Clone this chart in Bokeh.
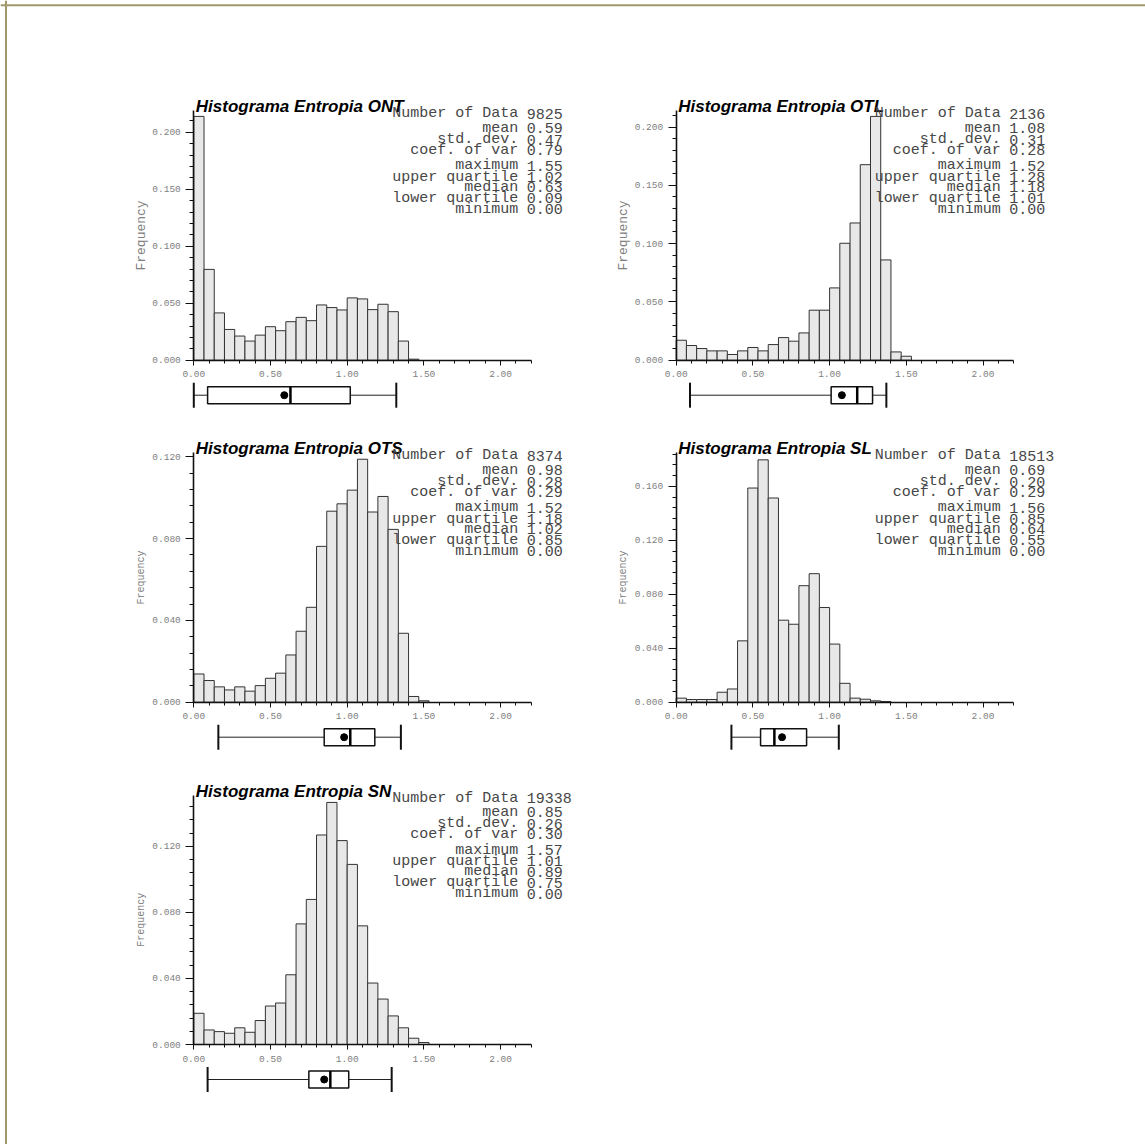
import math
from bokeh.plotting import figure
from bokeh.models import (Range1d, Label, SingleIntervalTicker, NumeralTickFormatter,
                          LinearAxis, Span)
from bokeh.embed import file_html
from bokeh.resources import INLINE

# ---------------- data ----------------
names = ["ONT", "OTL", "OTS", "SL", "SN"]
n_data = [9825, 2136, 8374, 18513, 19338]
means = [0.59, 1.08, 0.98, 0.69, 0.85]
std_devs = [0.47, 0.31, 0.28, 0.20, 0.26]
coef_vars = [0.79, 0.28, 0.29, 0.29, 0.30]
maxima = [1.55, 1.52, 1.52, 1.56, 1.57]
upper_q = [1.02, 1.28, 1.18, 0.85, 1.01]
medians = [0.63, 1.18, 1.02, 0.64, 0.89]
lower_q = [0.09, 1.01, 0.85, 0.55, 0.75]
minima = [0.00, 0.00, 0.00, 0.00, 0.00]
whisker_low = [0.00, 0.09, 0.16, 0.36, 0.09]
whisker_high = [1.32, 1.37, 1.35, 1.06, 1.29]

bin_width = 2.2 / 33
freq_ONT = [0.214, 0.0797, 0.0415, 0.027, 0.0212, 0.0168, 0.022, 0.0294, 0.0259, 0.0338,
            0.0376, 0.0347, 0.0485, 0.0462, 0.0441, 0.0547, 0.0538, 0.0444, 0.0491, 0.0426,
            0.0168, 0.0009]
freq_OTL = [0.0171, 0.0126, 0.010, 0.008, 0.008, 0.0049, 0.008, 0.0109, 0.008, 0.0134,
            0.0194, 0.0163, 0.0234, 0.0429, 0.0429, 0.062, 0.1003, 0.1177, 0.1677, 0.2091,
            0.086, 0.0071, 0.0034]
freq_OTS = [0.0138, 0.0106, 0.0075, 0.006, 0.0075, 0.0054, 0.0081, 0.0117, 0.0142, 0.0231,
            0.0347, 0.0464, 0.0762, 0.0934, 0.097, 0.1037, 0.1188, 0.093, 0.1006, 0.0845,
            0.0337, 0.0028, 0.0007]
freq_SL = [0.003, 0.002, 0.002, 0.002, 0.0074, 0.0098, 0.0455, 0.1588, 0.1797, 0.1514,
           0.0608, 0.0578, 0.0864, 0.0953, 0.0702, 0.0431, 0.014, 0.003, 0.0022, 0.001,
           0.0005]
freq_SN = [0.0189, 0.0088, 0.0078, 0.0068, 0.0101, 0.0074, 0.0145, 0.0233, 0.0251, 0.0422,
           0.073, 0.0878, 0.1268, 0.1465, 0.1234, 0.109, 0.0718, 0.0372, 0.0275, 0.0173,
           0.0101, 0.0038, 0.0012]
freqs = [freq_ONT, freq_OTL, freq_OTS, freq_SL, freq_SN]

y_max = [0.219, 0.214, 0.122, 0.185, 0.151]
y_step = [0.05, 0.05, 0.04, 0.04, 0.04]
x_max = 2.2

# --------------- layout / styling ---------------
W, H = 1145, 1144
ORIGIN = 0                         # page offset of the canvas
COL_LEFT = [193.3, 675.7]          # page x of value 0
ROW_BASE = [359.7, 701.7, 1044.0]  # page y of frequency 0
X_PX = 153.4                       # pixels per unit on x
AXIS_H = 249.5                     # pixel height of the frequency axis
BOX_DY = 35                        # box plot centre below the x axis
positions = [(0, 0), (1, 0), (0, 1), (1, 1), (0, 2)]
ylabel_size = ["13px", "13px", "10px", "10px", "10px"]
stat_offsets = [3, 17.3, 28.8, 39.3, 55, 66.3, 76.7, 87.5, 98.7]
MONO = "Liberation Mono"
INK = "#111111"
STAT_COLOR = "#474747"

p = figure(width=W, height=H, x_range=Range1d(0, W), y_range=Range1d(H, 0),
           output_backend="svg", toolbar_location=None, x_axis_type=None,
           y_axis_type=None, min_border=0, outline_line_color=None, title=None,
           background_fill_color="white", border_fill_color="white")

# page frame (top and left rules)
p.add_layout(Span(location=4.8, dimension="width", line_color="#a09868", line_width=2))
p.add_layout(Span(location=5.5, dimension="height", line_color="#a09868", line_width=2))

xr_all, yr_all = {}, {}
for i, (c, r) in enumerate(positions):
    Lc = COL_LEFT[c] - ORIGIN
    Bc = ROW_BASE[r] - ORIGIN
    s = AXIS_H / y_max[i]
    xr_all[f"x{i}"] = Range1d(-Lc / X_PX, (W - Lc) / X_PX)
    yr_all[f"y{i}"] = Range1d(-(H - Bc) / s, Bc / s)
    cb = Bc + BOX_DY
    yr_all[f"b{i}"] = Range1d(-(H - cb), cb)
p.extra_x_ranges = xr_all
p.extra_y_ranges = yr_all

stat_names = ["Number of Data", "mean", "std. dev.", "coef. of var",
              "maximum", "upper quartile", "median", "lower quartile", "minimum"]

for i in range(len(names)):
    xn, yn, bn = f"x{i}", f"y{i}", f"b{i}"
    f = freqs[i]
    lefts = [k * bin_width for k in range(len(f))]
    rights = [(k + 1) * bin_width for k in range(len(f))]
    p.quad(left=lefts, right=rights, bottom=0, top=f, fill_color="#e8e8e8",
           line_color="#333333", line_width=1, x_range_name=xn, y_range_name=yn)

    xa = LinearAxis(x_range_name=xn, y_range_name=yn, fixed_location=0,
                    bounds=(0, x_max),
                    ticker=SingleIntervalTicker(interval=0.5, num_minor_ticks=5),
                    formatter=NumeralTickFormatter(format="0.00"))
    ya = LinearAxis(x_range_name=xn, y_range_name=yn, fixed_location=0,
                    bounds=(0, y_max[i]),
                    ticker=SingleIntervalTicker(interval=y_step[i], num_minor_ticks=5),
                    formatter=NumeralTickFormatter(format="0.000"))
    for ax in (xa, ya):
        ax.axis_line_width = 1.6
        ax.axis_line_color = INK
        ax.major_tick_line_color = INK
        ax.minor_tick_line_color = INK
        ax.major_tick_in = 0
        ax.minor_tick_in = 0
        ax.major_label_text_font = MONO
        ax.major_label_text_font_size = "9.5px"
        ax.major_label_text_color = "#808080"
    xa.major_tick_out = 5
    xa.minor_tick_out = 3
    xa.major_label_standoff = 6
    ya.major_tick_out = 8
    ya.minor_tick_out = 4
    ya.major_label_standoff = 5
    p.add_layout(xa, "below")
    p.add_layout(ya, "left")

    p.add_layout(Label(x=0, y=y_max[i] / 2, x_range_name=xn, y_range_name=yn,
                       x_offset=-52.6, text="Frequency", angle=math.pi / 2,
                       text_font=MONO, text_font_size=ylabel_size[i],
                       text_color="#808080", text_align="center",
                       text_baseline="middle"))

    p.add_layout(Label(x=0, y=y_max[i], x_range_name=xn, y_range_name=yn,
                       x_offset=2, y_offset=4, text="Histograma Entropia " + names[i],
                       text_font="Liberation Sans", text_font_size="17px",
                       text_font_style="bold italic", text_color="black",
                       text_baseline="alphabetic", text_align="left"))

    stat_vals = [str(n_data[i]), f"{means[i]:.2f}", f"{std_devs[i]:.2f}",
                 f"{coef_vars[i]:.2f}", f"{maxima[i]:.2f}", f"{upper_q[i]:.2f}",
                 f"{medians[i]:.2f}", f"{lower_q[i]:.2f}", f"{minima[i]:.2f}"]
    for nm, vv, off in zip(stat_names, stat_vals, stat_offsets):
        p.add_layout(Label(x=x_max, y=y_max[i], x_range_name=xn, y_range_name=yn,
                           x_offset=-13, y_offset=-off, text=nm, text_font=MONO,
                           text_font_size="15px", text_color=STAT_COLOR,
                           text_align="right", text_baseline="middle"))
        p.add_layout(Label(x=x_max, y=y_max[i], x_range_name=xn, y_range_name=yn,
                           x_offset=-4.5, y_offset=-off, text=vv, text_font=MONO,
                           text_font_size="15px", text_color=STAT_COLOR,
                           text_align="left", text_baseline="middle"))

    # box plot
    p.segment(x0=[whisker_low[i], upper_q[i]], y0=[0, 0],
              x1=[lower_q[i], whisker_high[i]], y1=[0, 0],
              line_color="#222222", line_width=1, x_range_name=xn, y_range_name=bn)
    p.segment(x0=[whisker_low[i], whisker_high[i]], y0=[-12.5, -12.5],
              x1=[whisker_low[i], whisker_high[i]], y1=[12.5, 12.5],
              line_color=INK, line_width=2, x_range_name=xn, y_range_name=bn)
    p.quad(left=[lower_q[i]], right=[upper_q[i]], bottom=-8.5, top=8.5,
           fill_color="white", line_color=INK, line_width=1.5,
           x_range_name=xn, y_range_name=bn)
    p.segment(x0=[medians[i]], y0=[-8.5], x1=[medians[i]], y1=[8.5],
              line_color="black", line_width=2.5, x_range_name=xn, y_range_name=bn)
    p.scatter(x=[means[i]], y=[0], size=7, color="black",
              x_range_name=xn, y_range_name=bn)

open("out.html", "w").write(file_html(p, INLINE))
